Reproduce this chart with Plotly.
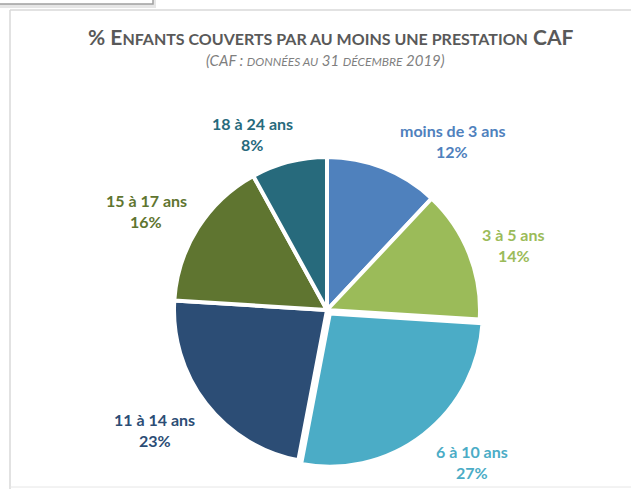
import math
import plotly.graph_objects as go

categories = ["moins de 3 ans", "3 à 5 ans", "6 à 10 ans", "11 à 14 ans", "15 à 17 ans", "18 à 24 ans"]
values = [12, 14, 27, 23, 16, 8]
colors = ["#4F81BD", "#9BBB59", "#4BACC6", "#2C4D75", "#5F7530", "#276A7C"]
label_colors = ["#4F81BD", "#9BBB59", "#4BACC6", "#2C4D75", "#5F7530", "#276A7C"]

# layout / style tweaks (not data)
W, H = 631, 489
CX, CY = 327, 310          # pie centre in pixels
R = 153                    # pie radius in pixels
PULL = [0, 0, 0.03, 0, 0, 0]
angle_nudge = [15, 2.4, -6, 3, -3.6, -8.6]   # degrees
label_dist = [210, 198, 210, 210, 206, 191]  # pixels from centre
LINE_GAP = 10.5

half = R * (1 + max(PULL))
dom_x = [(CX - half) / W, (CX + half) / W]
dom_y = [(H - CY - half) / H, (H - CY + half) / H]

fig = go.Figure(go.Pie(
    labels=categories,
    values=values,
    sort=False,
    direction="clockwise",
    rotation=0,
    pull=PULL,
    marker=dict(colors=colors, line=dict(color="white", width=4)),
    textinfo="none",
    hoverinfo="label+percent",
    domain=dict(x=dom_x, y=dom_y),
))

total = sum(values)
annotations = []
cum = 0
for cat, v, col, dn, dist in zip(categories, values, label_colors, angle_nudge, label_dist):
    mid = (cum + v / 2) / total * 360 + dn
    cum += v
    px = CX + dist * math.sin(math.radians(mid))
    py = CY - dist * math.cos(math.radians(mid))
    pct = f"{round(v / total * 100)}%"
    for txt, yy in ((cat, py - LINE_GAP), (pct, py + LINE_GAP)):
        annotations.append(dict(
            x=px / W, y=1 - yy / H, xref="paper", yref="paper",
            xanchor="center", yanchor="middle", showarrow=False,
            text=f"<b>{txt}</b>",
            font=dict(family="Lato", size=16, color=col),
        ))

big, small = 21, 16
title = (f"<b>% E<span style='font-size:{small}px'>NFANTS COUVERTS PAR AU MOINS UNE PRESTATION</span> CAF</b>")
annotations.append(dict(
    x=331 / W, y=1 - 37 / H, xref="paper", yref="paper", xanchor="center", yanchor="middle",
    showarrow=False, text=title, font=dict(family="Lato", size=big, color="#595959"),
))
sb, ss = 15, 12
subtitle = (f"<i>(CAF : <span style='font-size:{ss}px'>DONNÉES AU</span> 31 "
            f"<span style='font-size:{ss}px'>DÉCEMBRE</span> 2019)</i>")
annotations.append(dict(
    x=325 / W, y=1 - 60 / H, xref="paper", yref="paper", xanchor="center", yanchor="middle",
    showarrow=False, text=subtitle, font=dict(family="Lato", size=sb, color="#7F7F7F"),
))

shapes = [
    # chart frame
    dict(type="line", xref="paper", yref="paper", x0=10 / W, x1=1, y0=1 - 10 / H, y1=1 - 10 / H,
         line=dict(color="#D9D9D9", width=1.5)),
    dict(type="line", xref="paper", yref="paper", x0=10 / W, x1=10 / W, y0=0, y1=1 - 10 / H,
         line=dict(color="#D9D9D9", width=1.5)),
    dict(type="line", xref="paper", yref="paper", x0=10 / W, x1=1, y0=1 - 487 / H, y1=1 - 487 / H,
         line=dict(color="#E6E6E6", width=1)),
    # partial box at top-left (shadow + outline)
    dict(type="rect", xref="paper", yref="paper", x0=-5 / W, x1=156 / W, y0=1 - 8 / H, y1=1.02,
         line=dict(width=0), fillcolor="#E6E6E6", layer="below"),
    dict(type="rect", xref="paper", yref="paper", x0=-5 / W, x1=153 / W, y0=1 - 4 / H, y1=1.02,
         line=dict(color="#A0A0A0", width=1.5), fillcolor="white", layer="below"),
]

fig.update_layout(
    width=W, height=H,
    margin=dict(l=0, r=0, t=0, b=0),
    paper_bgcolor="white", plot_bgcolor="white",
    showlegend=False,
    annotations=annotations,
    shapes=shapes,
)

fig.write_html("out.html", config={"displayModeBar": False},
               post_script="document.body.style.margin='0';document.body.style.overflow='hidden';")
